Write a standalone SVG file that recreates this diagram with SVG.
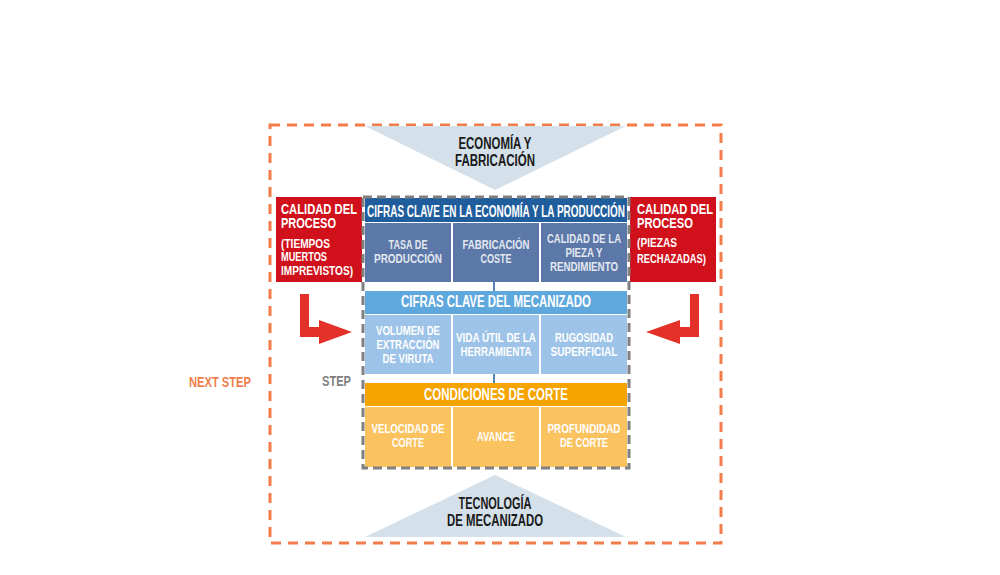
<svg xmlns="http://www.w3.org/2000/svg" width="1000" height="575" viewBox="0 0 1000 575">
<defs>
<style>
text{font-family:"Liberation Sans","DejaVu Sans",sans-serif;font-weight:bold;text-anchor:middle}
.big{font-size:16.5px}
.rb{font-size:15px}
.sm{font-size:12.5px}
.w{fill:#ffffff}
.lt{fill:#e4e8f0}
.dk{fill:#1a1a1a}
.l{text-anchor:start}
.hd{font-size:16.5px;fill:#fff}
.sep{stroke:#1f5d9c;stroke-width:1.5}
</style>
</defs>
<rect width="1000" height="575" fill="#fff"/>
<g id="frame-next">
<rect x="270" y="125" width="451" height="418" fill="none" stroke="#f27d4a" stroke-width="3" stroke-dasharray="10 7"/>
<text x="220" y="387" style="font-size:15px;fill:#f27d4a" textLength="62" lengthAdjust="spacingAndGlyphs">NEXT STEP</text>
</g>
<g id="economia">
<polygon points="365,126 626,126 495,190" fill="#d5e1ea"/>
<text class="big dk" x="495" y="149" textLength="73" lengthAdjust="spacingAndGlyphs">ECONOMÍA Y</text>
<text class="big dk" x="495" y="166" textLength="80" lengthAdjust="spacingAndGlyphs">FABRICACIÓN</text>
</g>
<g id="tecnologia">
<polygon points="365,537 626,537 495,475" fill="#d5e1ea"/>
<text class="big dk" x="495" y="509" textLength="73" lengthAdjust="spacingAndGlyphs">TECNOLOGÍA</text>
<text class="big dk" x="495" y="526" textLength="96" lengthAdjust="spacingAndGlyphs">DE MECANIZADO</text>
</g>
<g id="calidad-izq">
<rect x="276" y="197" width="86" height="85" fill="#d0111b"/>
<text class="rb w l" x="281" y="214" textLength="76" lengthAdjust="spacingAndGlyphs">CALIDAD DEL</text>
<text class="rb w l" x="281" y="228" textLength="55" lengthAdjust="spacingAndGlyphs">PROCESO</text>
<text class="sm w l" x="281" y="248" textLength="49" lengthAdjust="spacingAndGlyphs">(TIEMPOS</text>
<text class="sm w l" x="281" y="261" textLength="46" lengthAdjust="spacingAndGlyphs">MUERTOS</text>
<text class="sm w l" x="281" y="275" textLength="72" lengthAdjust="spacingAndGlyphs">IMPREVISTOS)</text>
</g>
<g id="calidad-der">
<rect x="630" y="197" width="86" height="85" fill="#d0111b"/>
<text class="rb w l" x="637" y="214" textLength="76" lengthAdjust="spacingAndGlyphs">CALIDAD DEL</text>
<text class="rb w l" x="637" y="228" textLength="56" lengthAdjust="spacingAndGlyphs">PROCESO</text>
<text class="sm w l" x="637" y="247" textLength="40" lengthAdjust="spacingAndGlyphs">(PIEZAS</text>
<text class="sm w l" x="637" y="263" textLength="69" lengthAdjust="spacingAndGlyphs">RECHAZADAS)</text>
</g>
<g id="flecha-izq">
<polygon points="300,294 309,294 309,327 319,327 319,320 352,332 319,344 319,337 300,337" fill="#e3312a"/>
</g>
<g id="flecha-der">
<polygon points="699,294 690,294 690,327 680,327 680,320 646,332 680,344 680,337 699,337" fill="#e3312a"/>
</g>
<g id="connectors">
<line class="sep" x1="494" y1="282" x2="494" y2="291"/>
<line class="sep" x1="494" y1="374" x2="494" y2="383"/>
</g>
<g id="economia-produccion">
<rect x="365" y="198" width="262" height="24" fill="#1f5d9c"/>
<text class="hd" x="496" y="217" textLength="258" lengthAdjust="spacingAndGlyphs">CIFRAS CLAVE EN LA ECONOMÍA Y LA PRODUCCIÓN</text>
<rect x="365" y="223" width="86" height="59" fill="#5b78a9"/>
<rect x="453" y="223" width="86" height="59" fill="#5b78a9"/>
<rect x="541" y="223" width="86" height="59" fill="#5b78a9"/>
<text class="sm lt" x="408" y="249" textLength="39" lengthAdjust="spacingAndGlyphs">TASA DE</text>
<text class="sm lt" x="408" y="263" textLength="68" lengthAdjust="spacingAndGlyphs">PRODUCCIÓN</text>
<text class="sm lt" x="496" y="249" textLength="67" lengthAdjust="spacingAndGlyphs">FABRICACIÓN</text>
<text class="sm lt" x="496" y="263" textLength="31" lengthAdjust="spacingAndGlyphs">COSTE</text>
<text class="sm lt" x="584" y="243" textLength="74" lengthAdjust="spacingAndGlyphs">CALIDAD DE LA</text>
<text class="sm lt" x="584" y="257" textLength="37" lengthAdjust="spacingAndGlyphs">PIEZA Y</text>
<text class="sm lt" x="584" y="271" textLength="68" lengthAdjust="spacingAndGlyphs">RENDIMIENTO</text>
</g>
<g id="mecanizado">
<rect x="365" y="291" width="262" height="23" fill="#5fa8de"/>
<text class="hd" x="496" y="307" textLength="190" lengthAdjust="spacingAndGlyphs">CIFRAS CLAVE DEL MECANIZADO</text>
<rect x="365" y="315" width="86" height="59" fill="#9dc3e8"/>
<rect x="453" y="315" width="86" height="59" fill="#9dc3e8"/>
<rect x="541" y="315" width="86" height="59" fill="#9dc3e8"/>
<text class="sm w" x="408" y="335" textLength="64" lengthAdjust="spacingAndGlyphs">VOLUMEN DE</text>
<text class="sm w" x="408" y="349" textLength="63" lengthAdjust="spacingAndGlyphs">EXTRACCIÓN</text>
<text class="sm w" x="408" y="363" textLength="51" lengthAdjust="spacingAndGlyphs">DE VIRUTA</text>
<text class="sm w" x="496" y="342" textLength="80" lengthAdjust="spacingAndGlyphs">VIDA ÚTIL DE LA</text>
<text class="sm w" x="496" y="356" textLength="71" lengthAdjust="spacingAndGlyphs">HERRAMIENTA</text>
<text class="sm w" x="584" y="342" textLength="58" lengthAdjust="spacingAndGlyphs">RUGOSIDAD</text>
<text class="sm w" x="584" y="356" textLength="67" lengthAdjust="spacingAndGlyphs">SUPERFICIAL</text>
</g>
<g id="condiciones">
<rect x="365" y="383" width="262" height="23" fill="#f5a400"/>
<text class="hd" x="496" y="400" textLength="144" lengthAdjust="spacingAndGlyphs">CONDICIONES DE CORTE</text>
<rect x="365" y="407" width="86" height="60" fill="#fbc260"/>
<rect x="453" y="407" width="86" height="60" fill="#fbc260"/>
<rect x="541" y="407" width="86" height="60" fill="#fbc260"/>
<text class="sm w" x="408" y="433" textLength="73" lengthAdjust="spacingAndGlyphs">VELOCIDAD DE</text>
<text class="sm w" x="408" y="447" textLength="32" lengthAdjust="spacingAndGlyphs">CORTE</text>
<text class="sm w" x="496" y="441" textLength="38" lengthAdjust="spacingAndGlyphs">AVANCE</text>
<text class="sm w" x="584" y="433" textLength="73" lengthAdjust="spacingAndGlyphs">PROFUNDIDAD</text>
<text class="sm w" x="584" y="447" textLength="48" lengthAdjust="spacingAndGlyphs">DE CORTE</text>
</g>
<g id="frame-step">
<rect x="363" y="197" width="266" height="271" fill="none" stroke="#808080" stroke-width="3" stroke-dasharray="9 5"/>
<text x="336.5" y="386" style="font-size:15px;fill:#808080" textLength="29" lengthAdjust="spacingAndGlyphs">STEP</text>
</g>
</svg>
